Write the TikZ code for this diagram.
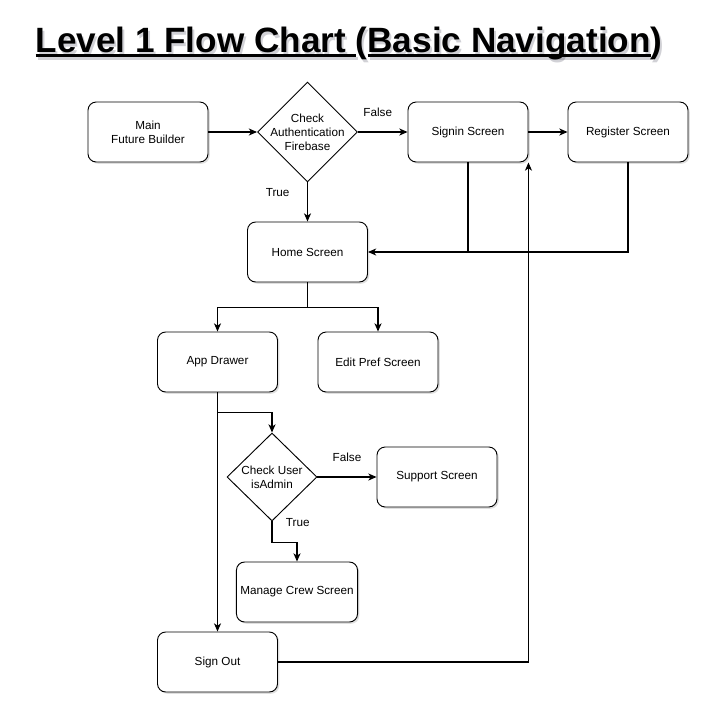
\documentclass[tikz,border=0pt]{standalone}
\usepackage{fontspec}
\setmainfont{Liberation Sans}
\usetikzlibrary{shapes.geometric, arrows.meta, shadows}
\tikzstyle{screen} = [rectangle, rounded corners=7pt, minimum width=3.6cm, minimum height=1.8cm, text centered, align=center, draw=black, line width=0.8pt, fill=white, drop shadow={opacity=0.25, shadow xshift=1.5pt, shadow yshift=-1.5pt}, font=\fontsize{10}{12}\selectfont]
\tikzstyle{decision} = [diamond, draw=black, line width=0.8pt, fill=white, inner sep=0pt]
\tikzstyle{lbl} = [font=\fontsize{10}{12}\selectfont, inner sep=0pt]
\tikzstyle{arrow} = [line width=0.9pt, -{Stealth[length=7pt,width=6pt,inset=2pt]}]
\tikzstyle{line} = [line width=0.9pt]
\tikzstyle{titlefont} = [font=\fontsize{30}{36}\selectfont\bfseries]
\newsavebox{\ulbox}
\newcommand{\ulpart}[1]{\sbox{\ulbox}{#1}\rlap{\rule[-4pt]{\wd\ulbox}{2pt}}\usebox{\ulbox}}
\newcommand{\charttitle}{\ulpart{Level 1 Flow Chart }(\ulpart{Basic Navigation})}

\begin{document}
\begin{tikzpicture}[x=0.03cm, y=-0.03cm]
	\useasboundingbox (0,0) rectangle (719,724);

	% soft shadow behind the title
	\node (titleshadow) [titlefont, text=blue!10!black, opacity=0.18] at (351,46) {\charttitle};
	\node (title) [titlefont] at (349,43) {\charttitle};

	\node (main) [screen] at (148,132) {Main\\Future Builder};
	\node (auth) [decision, minimum width=3cm, minimum height=3cm, label={[lbl, align=center]center:Check\\Authentication\\Firebase}] at (307.5,132) {};
	\node (signin) [screen] at (468,132) {Signin Screen};
	\node (register) [screen] at (628,132) {Register Screen};
	\node (home) [screen] at (307.5,252) {Home Screen};
	\node (drawer) [screen] at (217.5,362) {App Drawer};
	\node (pref) [screen] at (378,362) {Edit Pref Screen};
	\node (isadmin) [decision, minimum width=2.7cm, minimum height=2.64cm, label={[lbl, align=center]center:Check User\\isAdmin}] at (272,477) {};
	\node (support) [screen] at (437,477) {Support Screen};
	\node (crew) [screen] at (297,592) {Manage Crew Screen};
	\node (signout) [screen] at (217.5,662) {Sign Out};

	\draw [arrow] (main) -- (auth);
	\draw [arrow] (auth.east) -- node[lbl, pos=.4, yshift=17pt]{False} (signin.west);
	\draw [arrow] (signin) -- (register);
	\draw [arrow] (auth.south) -- node[lbl, pos=.25, xshift=-25.5pt]{True} (home.north);
	\draw [line] (signin.south) -- (signin.south |- home.east);
	\draw [arrow] (register.south) |- (home.east);
	\draw [arrow] (home.south) -- ++(0,25) -| (drawer.north);
	\draw [arrow] (home.south) -- ++(0,25) -| (pref.north);
	\draw [arrow] (drawer.south) -- (signout.north);
	\path (drawer.south) ++(0,20) coordinate (split);
	\draw [arrow] (split) -| (isadmin.north);
	\draw [arrow] (isadmin.east) -- node[lbl, pos=.5, yshift=17pt]{False} (support.west);
	\draw [arrow] (isadmin.south) -- node[lbl, pos=.05, xshift=22pt]{True} ++(0,21) -| (crew.north);
	\draw [arrow] (signout.east) -| (signin.south east);
\end{tikzpicture}
\end{document}
